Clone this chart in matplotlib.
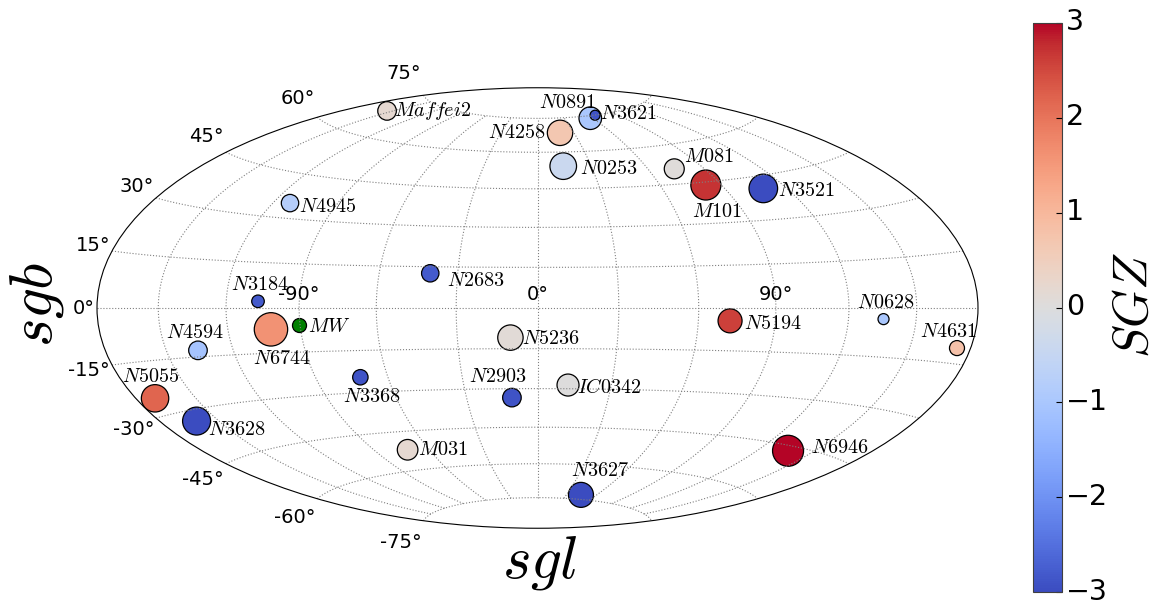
import numpy as np
import matplotlib
matplotlib.use('Agg')
import matplotlib.pyplot as plt
from matplotlib.transforms import Affine2D

plt.rcParams['mathtext.fontset'] = 'cm'

# supergalactic positions in degrees
names = ['Maffei2', 'N4945', 'N2683', 'N3184', 'N6744', 'N4594', 'N5055', 'N3628', 'N3368',
         'M031', 'N2903', 'N5236', 'N0891', 'N3621', 'N4258', 'N0253', 'M081', 'M101',
         'N3521', 'N5194', 'N0628', 'N4631', 'IC0342', 'N6946', 'N3627']
sgl = [-153.8, -112.0, -40.4, -106.7, -102.0, -135.5, -170.1, -161.1, -71.3,
       -71.8, -10.8, -10.1, 57.6, 67.2, 18.6, 14.4, 74.1, 82.4,
       108.6, 72.2, 135.2, 173.0, 12.4, 136.2, 44.7]
sgb = [68.6, 35.1, 12.6, 2.2, -7.1, -13.0, -25.2, -33.2, -24.5,
       -52.0, -33.4, -10.9, 73.9, 74.9, 68.3, 54.1, 50.8, 43.9,
       40.7, -4.5, -3.4, -10.8, -28.6, -46.6, -73.0]
sgz = [0.2, -0.8, -2.8, -2.8, 1.6, -1.1, 2.2, -3.0, -2.9,
       0.2, -2.9, 0.1, -1.0, -2.9, 0.7, -0.4, 0.05, 2.7,
       -3.0, 2.6, -1.0, 0.8, 0.0, 3.0, -3.0]
size = [179, 157, 157, 82, 578, 179, 389, 406, 123,
        220, 179, 334, 265, 52, 334, 367, 207, 467,
        424, 299, 63, 117, 251, 498, 324]

mw_sgl = -90.3
mw_sgb = -5.7
mw_size = 102

# label offsets from the marker centre, pixels
label_dx = [7, 9, 17, -27, -18, -32, -33, 11, -17, 10, -43, 12, -51, 5, -72, 17, 10, -14, 15, 14, -27, -37, 9, 23, -10]
label_dy = [0, -3, -7, 17, -29, 18, 22, -8, -19, 0, 21, -1, 16, 2, 0, -2, 12, -26, -2, -3, 17, 17, -2, 3, 24]

lat_ticks = [-75, -60, -45, -30, -15, 0, 15, 30, 45, 60, 75]
lon_ticks = [-150, -120, -90, -60, -30, 0, 30, 60, 90, 120, 150]
lon_labels = ['', '', '-90°', '', '', '0°', '', '', '90°', '', '']
cbar_ticks = [-3, -2, -1, 0, 1, 2, 3]

fig = plt.figure(figsize=(11.57, 6.01), dpi=100)
ax = fig.add_axes([97 / 1157, 72 / 601, 881 / 1157, 442 / 601], projection='hammer')

sc = ax.scatter(np.radians(sgl), np.radians(sgb), c=sgz, s=size, cmap='coolwarm', vmin=-3, vmax=3,
                edgecolors='k', linewidths=0.9)
ax.scatter(np.radians(mw_sgl), np.radians(mw_sgb), c='green', s=mw_size, edgecolors='k', linewidths=0.9)

for name, x, y, dx, dy in zip(names, sgl, sgb, label_dx, label_dy):
    ax.annotate('$%s$' % name, (np.radians(x), np.radians(y)), xytext=(dx, dy), textcoords='offset pixels',
                fontsize=14.5, ha='left', va='center')
ax.annotate('$MW$', (np.radians(mw_sgl), np.radians(mw_sgb)), xytext=(9, -2), textcoords='offset pixels',
            fontsize=14.5, ha='left', va='center')

ax.set_longitude_grid_ends(75)
ax.set_xticks(np.radians(lon_ticks))
ax.set_xticklabels(lon_labels)
ax.set_yticks(np.radians(lat_ticks))
ax.tick_params(labelsize=14)
ax.grid(True, color='0.5', linestyle=':', linewidth=0.8)
# latitude labels sit a little closer to the ellipse
for label in ax.get_yticklabels():
    label.set_transform(label.get_transform() + Affine2D().translate(6, 0))

cax = fig.add_axes([1033 / 1157, 9 / 601, 29 / 1157, 569 / 601])
cb = fig.colorbar(sc, cax=cax, ticks=cbar_ticks)
cb.ax.tick_params(direction='in', length=4, width=0.8, labelsize=20.5, pad=3)
cb.outline.set_edgecolor('0.25')
for label in cb.ax.get_yticklabels():
    label.set_transform(label.get_transform() + Affine2D().translate(0, 3.5))

fig.text(540 / 1157, 1 - 563 / 601, '$sgl$', fontsize=44, ha='center', va='center')
fig.text(37 / 1157, 1 - 304 / 601, '$sgb$', fontsize=44, rotation=90, ha='center', va='center')
fig.text(1134 / 1157, 1 - 305 / 601, '$SGZ$', fontsize=35.5, rotation=90, ha='center', va='center')

fig.savefig('out.png', dpi=100)
